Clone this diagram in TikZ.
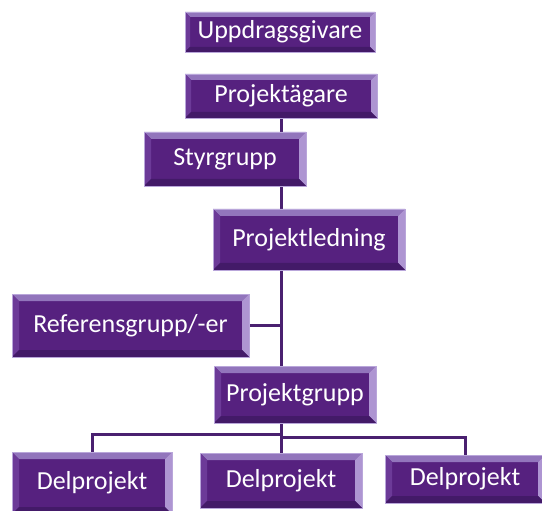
\documentclass[tikz,border=0pt]{standalone}
\usepackage{fontspec}
\newfontfamily\boxfont{Carlito}
\usetikzlibrary{backgrounds,calc}
\definecolor{boxfill}{HTML}{56217F}
\definecolor{bevtop}{HTML}{9275BC}
\definecolor{bevleft}{HTML}{6C3A98}
\definecolor{bevright}{HTML}{AE95D2}
\definecolor{bevbot}{HTML}{431A68}
\definecolor{boxedge}{HTML}{B9A6DA}
\definecolor{connc}{HTML}{4A2070}
\tikzset{
  bw/.store in=\bevw, bw=7pt,
  box/.style={draw=boxedge, line width=0.6pt, fill=boxfill, text=white,
    font=\boxfont\fontsize{26}{30}\selectfont, inner sep=0pt,
    path picture={
      \coordinate (nw) at (path picture bounding box.north west);
      \coordinate (ne) at (path picture bounding box.north east);
      \coordinate (sw) at (path picture bounding box.south west);
      \coordinate (se) at (path picture bounding box.south east);
      \coordinate (inw) at ([xshift=\bevw,yshift=-\bevw]nw);
      \coordinate (ine) at ([xshift=-\bevw,yshift=-\bevw]ne);
      \coordinate (isw) at ([xshift=\bevw,yshift=\bevw]sw);
      \coordinate (ise) at ([xshift=-\bevw,yshift=\bevw]se);
      \fill[bevtop] (nw) -- (ne) -- (ine) -- (inw) -- cycle;
      \fill[bevleft] (nw) -- (inw) -- (isw) -- (sw) -- cycle;
      \fill[bevright] (ne) -- (ine) -- (ise) -- (se) -- cycle;
      \fill[bevbot] (sw) -- (isw) -- (ise) -- (se) -- cycle;
    }},
  conn/.style={draw=connc, line width=3pt}
}
\begin{document}
\begin{tikzpicture}[x=1pt,y=-1pt]
\useasboundingbox (0,0) rectangle (542,511);
\node[box, bw=5pt, minimum width=190pt, minimum height=40pt] (ug) at (280,32) {Uppdragsgivare};
\node[box, bw=6pt, minimum width=192pt, minimum height=44pt] (pa) at (281,96) {Projektägare};
\node[box, minimum width=162pt, minimum height=54pt] (sg) at (225,159) {Styrgrupp};
\node[box, minimum width=192pt, minimum height=61pt] (pl) at (309,239.5) {Projektledning};
\node[box, minimum width=237pt, minimum height=63pt] (rg) at (130.5,325.5) {Referensgrupp/-er};
\node[box, minimum width=162pt, minimum height=57pt] (pg) at (295,394.5) {Projektgrupp};
\node[box, minimum width=160pt, minimum height=62pt] (d1) at (92,483) {Delprojekt};
\node[box, minimum width=162pt, minimum height=55pt] (d2) at (281,480.5) {Delprojekt};
\node[box, minimum width=160pt, minimum height=48pt] (d3) at (465,479) {Delprojekt};
\coordinate (j1) at (280,434);
\coordinate (j2) at (280,437);
\begin{scope}[on background layer]
  \draw[conn] (pa.south) -- (pa.south |- pg.north);
  \draw[conn] (rg.east) -- (rg.east -| pa.south);
  \draw[conn] (pg.south -| pa.south) -- (pa.south |- d2.north);
  \draw[conn] (j1) -| (d1.north);
  \draw[conn] (j2) -| (d3.north);
\end{scope}
\end{tikzpicture}
\end{document}
